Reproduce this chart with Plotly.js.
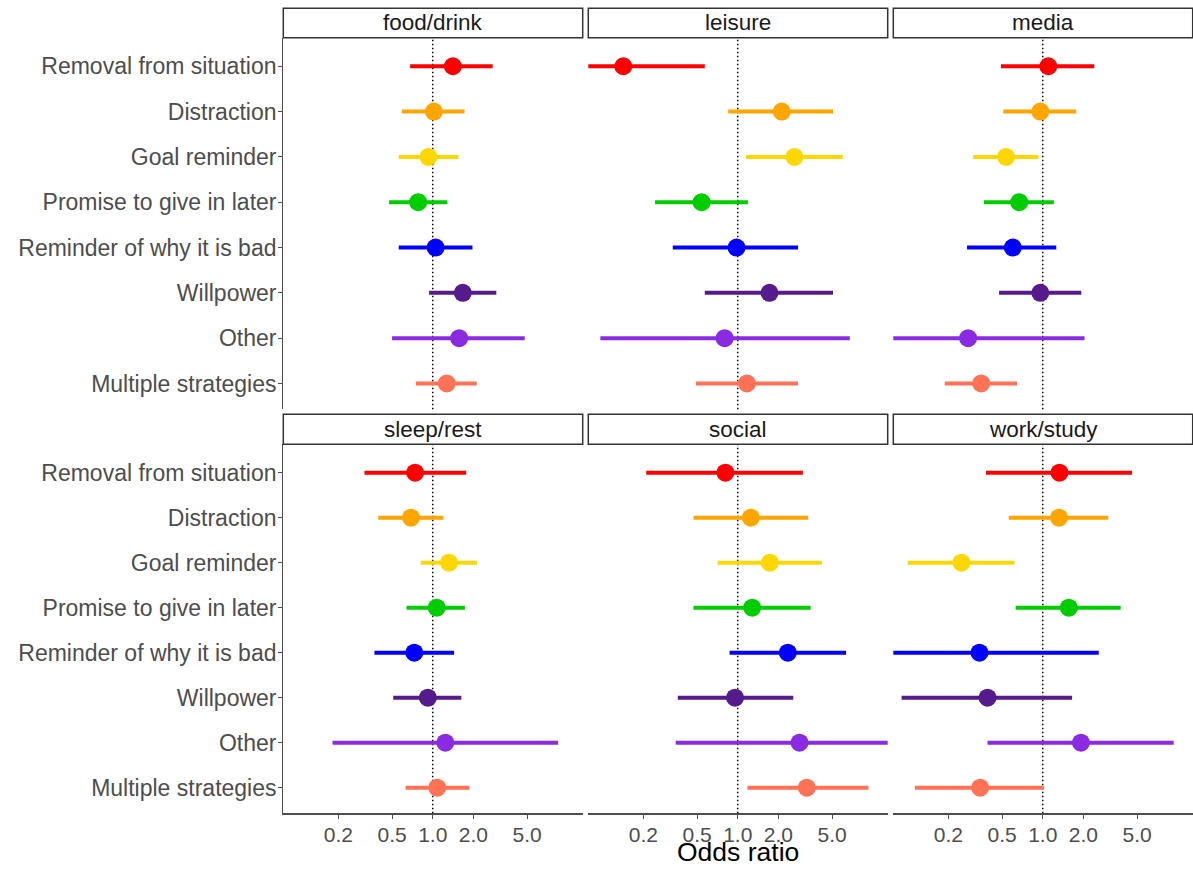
<!DOCTYPE html>
<html>
<head>
<meta charset="utf-8">
<script src="https://cdn.plot.ly/plotly-3.0.1.min.js"></script>
<style>html,body{margin:0;padding:0;background:#fff;}#chart{width:1193px;height:869px;}</style>
</head>
<body>
<div id="chart"></div>
<script>
// ---- data ----
const strategies = ["Removal from situation","Distraction","Goal reminder","Promise to give in later","Reminder of why it is bad","Willpower","Other","Multiple strategies"];
const strategyColors = ["#FF0000","#FFA500","#FFD700","#00CD00","#0000FF","#551A8B","#8A2BE2","#FF7256"];
const facets = ["food/drink","leisure","media","sleep/rest","social","work/study"];

const food_or  = [1.41, 1.02, 0.93, 0.78, 1.05, 1.67, 1.57, 1.27];
const food_lo  = [0.68, 0.59, 0.56, 0.475, 0.56, 0.94, 0.50, 0.75];
const food_hi  = [2.78, 1.72, 1.55, 1.28, 1.97, 2.96, 4.80, 2.12];

const leisure_or = [0.142, 2.12, 2.63, 0.54, 0.98, 1.72, 0.80, 1.17];
const leisure_lo = [0.06, 0.85, 1.15, 0.244, 0.33, 0.57, 0.096, 0.49];
const leisure_hi = [0.57, 5.08, 6.0, 1.19, 2.80, 5.08, 6.76, 2.80];

const media_or = [1.10, 0.96, 0.535, 0.67, 0.60, 0.96, 0.28, 0.35];
const media_lo = [0.49, 0.51, 0.305, 0.367, 0.275, 0.475, 0.06, 0.188];
const media_hi = [2.41, 1.77, 0.93, 1.21, 1.26, 1.93, 2.04, 0.645];

const sleep_or = [0.74, 0.69, 1.32, 1.07, 0.73, 0.92, 1.24, 1.08];
const sleep_lo = [0.312, 0.395, 0.815, 0.64, 0.37, 0.51, 0.181, 0.63];
const sleep_hi = [1.77, 1.20, 2.13, 1.73, 1.44, 1.63, 8.49, 1.87];

const social_or = [0.81, 1.25, 1.73, 1.28, 2.35, 0.955, 2.87, 3.25];
const social_lo = [0.21, 0.47, 0.71, 0.47, 0.87, 0.36, 0.347, 1.18];
const social_hi = [3.04, 3.33, 4.20, 3.47, 6.35, 2.58, 15.0, 9.3];

const work_or = [1.33, 1.32, 0.25, 1.56, 0.34, 0.39, 1.92, 0.344];
const work_lo = [0.38, 0.56, 0.10, 0.63, 0.06, 0.090, 0.39, 0.113];
const work_hi = [4.59, 3.06, 0.617, 3.78, 2.60, 1.65, 9.34, 1.02];

const tickVals = [0.2, 0.5, 1, 2, 5];
const tickText = ["0.2", "0.5", "1.0", "2.0", "5.0"];
const xTitle = "Odds ratio";

const panelData = [
  [food_or, food_lo, food_hi],
  [leisure_or, leisure_lo, leisure_hi],
  [media_or, media_lo, media_hi],
  [sleep_or, sleep_lo, sleep_hi],
  [social_or, social_lo, social_hi],
  [work_or, work_lo, work_hi]
];

// ---- geometry ----
const W = 1193, H = 869;
const colPx = [[283.3, 582.7], [588.3, 887.7], [893.3, 1192.7]];
const rowPx = [[37.7, 409.3], [444.3, 813.3]];
const stripPx = [[8.3, 37.7], [414.3, 444.3]];
const xDom = colPx.map(c => [c[0] / W, c[1] / W]);
const yDom = rowPx.map(r => [1 - r[1] / H, 1 - r[0] / H]);
const xRange = [-1.107, 1.111];

const traces = [];
const layout = {
  width: W, height: H,
  margin: {l: 0, r: 0, t: 0, b: 0},
  paper_bgcolor: "#fff", plot_bgcolor: "#fff",
  showlegend: false,
  font: {family: "Liberation Sans, Arial, sans-serif", color: "#4D4D4D"},
  shapes: [], annotations: []
};

for (let p = 0; p < 6; p++) {
  const row = Math.floor(p / 3), col = p % 3;
  const sfx = p === 0 ? "" : String(p + 1);
  const xa = "x" + sfx, ya = "y" + sfx;
  const [est, lo, hi] = panelData[p];
  for (let i = 0; i < strategies.length; i++) {
    traces.push({
      type: "scatter", mode: "markers",
      x: [est[i]], y: [strategies[i]],
      xaxis: xa, yaxis: ya,
      marker: {color: strategyColors[i], size: 18, line: {width: 0}},
      error_x: {type: "data", symmetric: false, array: [hi[i] - est[i]], arrayminus: [est[i] - lo[i]],
                width: 0, thickness: 4, color: strategyColors[i]},
      hoverinfo: "x+y"
    });
  }
  const bottom = row === 1, left = col === 0;
  layout["xaxis" + sfx] = {
    domain: xDom[col], anchor: ya, type: "log", range: xRange,
    tickvals: tickVals, ticktext: tickText,
    showticklabels: bottom, ticks: bottom ? "outside" : "", ticklen: 4, tickwidth: 1, tickcolor: "#4D4D4D",
    ticklabelstandoff: -2,
    showline: bottom, linecolor: "#4D4D4D", linewidth: 1.2,
    showgrid: false, zeroline: false, automargin: false,
    tickfont: {size: 21, color: "#4D4D4D"}
  };
  layout["yaxis" + sfx] = {
    domain: yDom[row], anchor: xa, type: "category",
    categoryorder: "array", categoryarray: strategies,
    range: [7.57, -0.63],
    showticklabels: left, ticks: left ? "outside" : "", ticklen: 4, tickwidth: 1, tickcolor: "#4D4D4D",
    ticklabelstandoff: -3,
    showline: left, linecolor: "#4D4D4D", linewidth: 1.2,
    showgrid: false, zeroline: false, automargin: false,
    tickfont: {size: 23, color: "#4D4D4D"}
  };
  // reference line at OR = 1
  layout.shapes.push({
    type: "line", xref: xa, yref: ya + " domain", x0: 1, x1: 1, y0: 0, y1: 1,
    line: {color: "#000", width: 1.5, dash: "1.5px,2.5px"}, layer: "below"
  });
  // strip
  const sy = stripPx[row];
  layout.shapes.push({
    type: "rect", xref: "paper", yref: "paper",
    x0: xDom[col][0], x1: xDom[col][1], y0: 1 - sy[1] / H, y1: 1 - sy[0] / H,
    fillcolor: "#fff", line: {color: "#333", width: 1.5}
  });
  layout.annotations.push({
    xref: "paper", yref: "paper", x: (xDom[col][0] + xDom[col][1]) / 2, y: 1 - (sy[0] + sy[1]) / 2 / H,
    text: facets[p], showarrow: false, xanchor: "center", yanchor: "middle",
    font: {size: 22.5, color: "#1A1A1A"}
  });
}

layout.annotations.push({
  xref: "paper", yref: "paper", x: (xDom[1][0] + xDom[1][1]) / 2, y: 0,
  text: xTitle, showarrow: false, xanchor: "center", yanchor: "bottom",
  font: {size: 26.5, color: "#000"}
});

Plotly.newPlot("chart", traces, layout, {displayModeBar: false, staticPlot: true});
</script>
</body>
</html>
